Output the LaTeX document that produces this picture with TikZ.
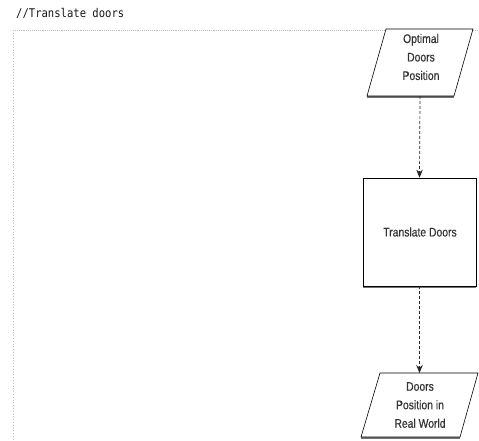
\documentclass[tikz,border=0pt]{standalone}
\usepackage{fontspec}
\newfontfamily\flowfont[FakeStretch=0.83,FakeBold=0.4]{Liberation Sans}
\newfontfamily\codefont[FakeStretch=0.88]{DejaVu Sans Mono}
\usetikzlibrary{arrows.meta}
\begin{document}
\begin{tikzpicture}[x=1pt,y=-1pt,
  frametop/.style={draw=black!25,line width=0.9pt,densely dotted},
  frameside/.style={draw=black!25,line width=0.8pt,dotted},
  shapebox/.style={draw=none,minimum width=#1,inner sep=0pt,outer sep=0pt},
  outline/.style={draw=black,line width=0.6pt,fill=white},
  shadowedge/.style={draw=black!55,line width=1.4pt},
  flowtext/.style={font=\flowfont\fontsize{12.5}{18.5}\selectfont,text=black!80,align=center},
  flow/.style={draw=black!85,line width=0.7pt,densely dashed,-{Stealth[length=8pt,width=6.5pt]}}]
\useasboundingbox (0,0) rectangle (479,441);
\fill[white] (0,0) rectangle (479,441);
% title and frame
\node[anchor=west,font=\codefont\fontsize{12}{14}\selectfont,text=black!90,inner sep=0pt] (title) at (16,13) {//Translate doors};
\coordinate (fl) at (13,30);
\coordinate (fr) at (479,30);
\coordinate (fb) at (13,441);
\draw[frametop] (fl) -- (fr);
\draw[frameside] (fl) -- (fb);
% top parallelogram
\node[shapebox=106,minimum height=67] (p1) at (420,62.5) {};
\draw[shadowedge] ([yshift=-1pt]p1.south west) -- ([xshift=-19pt,yshift=-1pt]p1.south east);
\draw[outline] ([xshift=19pt]p1.north west) -- (p1.north east) -- ([xshift=-19pt]p1.south east) -- (p1.south west) -- cycle;
\node[flowtext] (t1) at (421,57) {Optimal\\Doors\\Position};
% rectangle
\node[outline,minimum width=113,minimum height=108,inner sep=0pt] (r) at (419.5,232) {};
\draw[shadowedge] ([yshift=-1pt]r.south west) -- ([yshift=-1pt]r.south east);
\node[flowtext] (t2) at (420,232) {Translate Doors};
% bottom parallelogram
\node[shapebox=117,minimum height=64] (p2) at (419.5,405) {};
\draw[shadowedge] ([yshift=-1pt]p2.south west) -- ([xshift=-18pt,yshift=-1pt]p2.south east);
\draw[outline] ([xshift=19pt]p2.north west) -- (p2.north east) -- ([xshift=-18pt]p2.south east) -- (p2.south west) -- cycle;
\node[flowtext] (t3) at (420,405) {Doors\\Position in\\Real World};
% connectors
\draw[flow] (p1.south) -- (r.north);
\draw[flow] (r.south) -- (p2.north);
\end{tikzpicture}
\end{document}
